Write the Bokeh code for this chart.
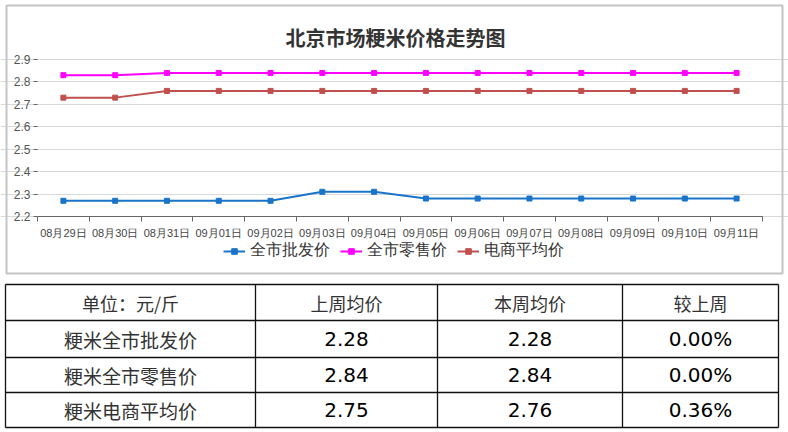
from bokeh.plotting import figure
from bokeh.models import (Range1d, FixedTicker, Legend, LegendItem, BoxAnnotation,
                          ColumnDataSource, Label)
from bokeh.embed import file_html
from bokeh.resources import INLINE
from bokeh.core.properties import value

# ---------------- data ----------------
dates = ["08月29日", "08月30日", "08月31日", "09月01日", "09月02日", "09月03日", "09月04日",
         "09月05日", "09月06日", "09月07日", "09月08日", "09月09日", "09月10日", "09月11日"]
wholesale = [2.27, 2.27, 2.27, 2.27, 2.27, 2.31, 2.31, 2.28, 2.28, 2.28, 2.28, 2.28, 2.28, 2.28]
retail = [2.83, 2.83, 2.84, 2.84, 2.84, 2.84, 2.84, 2.84, 2.84, 2.84, 2.84, 2.84, 2.84, 2.84]
ecommerce = [2.73, 2.73, 2.76, 2.76, 2.76, 2.76, 2.76, 2.76, 2.76, 2.76, 2.76, 2.76, 2.76, 2.76]
series_names = ["全市批发价", "全市零售价", "电商平均价"]
y_ticks = [2.2, 2.3, 2.4, 2.5, 2.6, 2.7, 2.8, 2.9]
chart_title = "北京市场粳米价格走势图"

table_header = ["单位：元/斤", "上周均价", "本周均价", "较上周"]
row_names = ["粳米全市批发价", "粳米全市零售价", "粳米电商平均价"]
last_week = ["2.28", "2.84", "2.75"]
this_week = ["2.28", "2.84", "2.76"]
change = ["0.00%", "0.00%", "0.36%"]

# ---------------- layout / styles ----------------
series_colors = ["#1a74c9", "#ff00ff", "#c0504d"]
LAT = "Liberation Sans"
W, H = 788, 278
# plot area in canvas pixels
PX_L, PX_R, PX_T, PX_B = 37, 762, 59, 216
n = len(dates)
sx = (PX_R - PX_L) / n
sy = (PX_B - PX_T) / (y_ticks[-1] - y_ticks[0])
x_start, x_end = -PX_L / sx, n + (W - PX_R) / sx
y_start, y_end = y_ticks[0] - (H - PX_B) / sy, y_ticks[-1] + PX_T / sy

p = figure(width=W, height=H, output_backend="svg", toolbar_location=None,
           x_range=Range1d(x_start, x_end), y_range=Range1d(y_start, y_end),
           min_border=0)
p.outline_line_color = None
p.background_fill_color = "white"
p.border_fill_color = "white"

xs = [i + 0.5 for i in range(n)]
items = []
for name, vals, col in zip(series_names, [wholesale, retail, ecommerce], series_colors):
    src = ColumnDataSource(dict(x=xs, y=vals))
    lr = p.line("x", "y", source=src, line_color=col, line_width=2)
    sr = p.scatter("x", "y", source=src, marker="square", size=5, fill_color=col, line_color=col)
    items.append(LegendItem(label=name, renderers=[lr, sr]))

# y axis (drawn at the left edge of the plot area)
p.yaxis.fixed_location = 0
p.yaxis.bounds = (y_ticks[0], y_ticks[-1])
p.yaxis.ticker = FixedTicker(ticks=y_ticks)
p.yaxis.axis_line_color = None
p.yaxis.major_tick_in = 0
p.yaxis.major_tick_out = 4
p.yaxis.major_tick_line_color = "#666666"
p.yaxis.minor_tick_line_color = None
p.yaxis.major_label_text_font = LAT
p.yaxis.major_label_text_font_size = "12px"
p.yaxis.major_label_text_color = "#555555"
p.yaxis.major_label_standoff = 3

# x axis: labels at category centres, ticks at category boundaries
p.xaxis.fixed_location = y_ticks[0]
p.xaxis.bounds = (0, n)
p.xaxis.ticker = FixedTicker(ticks=xs, minor_ticks=list(range(n + 1)))
p.xaxis.major_label_overrides = {x: d for x, d in zip(xs, dates)}
p.xaxis.major_tick_line_color = None
p.xaxis.minor_tick_in = 0
p.xaxis.minor_tick_out = 5
p.xaxis.minor_tick_line_color = "#666666"
p.xaxis.axis_line_color = "#666666"
p.xaxis.major_label_text_font = LAT
p.xaxis.major_label_text_font_size = "11px"
p.xaxis.major_label_text_color = "#444444"
p.xaxis.major_label_standoff = 4

p.xgrid.grid_line_color = None
p.ygrid.ticker = FixedTicker(ticks=y_ticks)
p.ygrid.bounds = (0, n)
p.ygrid.grid_line_color = "#d9d9d9"

p.add_layout(Label(x=x_start + 395 / sx, y=y_end - 37 / sy, text=chart_title,
                   text_align="center", text_baseline="middle",
                   text_font="Noto Sans CJK SC", text_font_size="20px",
                   text_font_style="bold", text_color="#333333"))

legend = Legend(items=items, orientation="horizontal", location=(223, 17),
                border_line_color=None, background_fill_alpha=0,
                label_text_font=LAT, label_text_font_size="16px", label_text_color="#333333",
                glyph_width=22, glyph_height=14, spacing=10, label_standoff=5,
                padding=0, margin=0)
p.add_layout(legend)

p.add_layout(BoxAnnotation(left=6, right=782, top=5, bottom=273,
                           left_units="canvas", right_units="canvas",
                           top_units="canvas", bottom_units="canvas",
                           fill_alpha=0, line_color="#c4c4c4", line_alpha=1.0, line_width=2))

# ---------------- table ----------------
TW, TH = 788, 154
t = figure(width=TW, height=TH, output_backend="svg", toolbar_location=None,
           x_range=Range1d(0, TW), y_range=Range1d(TH, 0), min_border=0,
           x_axis_location=None, y_axis_location=None)
t.grid.visible = False
t.outline_line_color = None

col_x = [5, 255, 437, 622, 778]
row_y = [6, 42, 79, 114, 149]
t.segment(x0=[col_x[0]] * len(row_y), x1=[col_x[-1]] * len(row_y), y0=row_y, y1=row_y,
          line_color="#111111", line_width=1.3)
t.segment(x0=col_x, x1=col_x, y0=[row_y[0]] * len(col_x), y1=[row_y[-1]] * len(col_x),
          line_color="#111111", line_width=1.3)

cx = [(a + b) / 2 for a, b in zip(col_x[:-1], col_x[1:])]
cy = [(a + b) / 2 for a, b in zip(row_y[:-1], row_y[1:])]

t.text(x=cx, y=[cy[0]] * 4, text=table_header, text_align="center", text_baseline="middle",
       text_font=value("Noto Sans CJK SC"), text_font_size="18px", text_color="#333333")
t.text(x=[cx[0]] * 3, y=cy[1:], text=row_names, text_align="center", text_baseline="middle",
       text_font=value("Noto Sans CJK SC"), text_font_size="19px", text_color="#333333")
for j, col_vals in enumerate([last_week, this_week, change]):
    t.text(x=[cx[j + 1]] * 3, y=cy[1:], text=col_vals, text_align="center", text_baseline="middle",
           text_font=value("DejaVu Sans"), text_font_size="20px", text_color="#000000")

open("out.html", "w").write(file_html([p, t], INLINE))
